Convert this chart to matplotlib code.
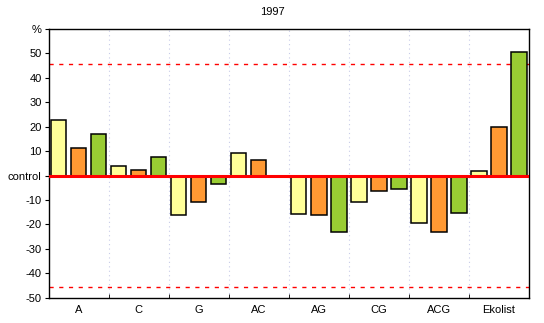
import numpy as np
import matplotlib.pyplot as plt

groups = ["A", "C", "G", "AC", "AG", "CG", "ACG", "Ekolist"]
s1 = [22.8, 4.1, -16.1, 9.3, -15.6, -10.8, -19.4, 1.9]    # light yellow
s2 = [11.3, 2.3, -10.8, 6.4, -16.1, -6.3, -23.1, 20.0]    # orange
s3 = [17.1, 7.8, -3.4, 0.0, -23.1, -5.5, -15.3, 50.7]     # green
limit = 45.5
yticks = [-50, -40, -30, -20, -10, 0, 10, 20, 30, 40, 50, 60]
ylabels = ["-50", "-40", "-30", "-20", "-10", "control", "10", "20", "30", "40", "50", "%"]

plt.rcParams['font.family'] = ['Liberation Sans', 'DejaVu Sans']

fig = plt.figure(figsize=(5.44, 3.23), dpi=100)
ax = fig.add_axes([0.0895, 0.0783, 0.8829, 0.8319])

x = np.arange(len(groups)) + 0.5
w = 0.255
cols = ["#FFFF99", "#FF9933", "#99CC33"]
for off, vals, c in zip([-1/3, 0, 1/3], [s1, s2, s3], cols):
    ax.bar(x + off, vals, width=w, color=c, edgecolor="black", linewidth=1.1, zorder=3)

ax.axhline(0, color="#FF0000", linewidth=2.2, zorder=4)
ax.axhline(limit, color="#FF0000", linewidth=1, linestyle=(0, (3, 4)), zorder=2)
ax.axhline(-limit, color="#FF0000", linewidth=1, linestyle=(0, (3, 4)), zorder=2)

for b in range(1, len(groups)):
    ax.axvline(b, color="#C8CCE8", linewidth=0.8, linestyle=(0, (1, 3)), zorder=1)

ax.set_xlim(0, len(groups))
ax.set_ylim(-50, 60)
ax.set_xticks(x)
ax.set_xticklabels(groups, fontsize=8)
ax.tick_params(axis="x", length=0, pad=5)
ax.set_xticks(np.arange(1, len(groups)), minor=True)
ax.tick_params(axis="x", which="minor", direction="in", length=3)
ax.set_yticks(yticks)
ax.set_yticklabels(ylabels, fontsize=8)
ax.tick_params(axis="y", length=3, pad=2)
for sp in ax.spines.values():
    sp.set_linewidth(1)

fig.text(0.5, 0.962, "1997", ha="center", va="center", fontsize=8)

fig.savefig("out.png", dpi=100)
